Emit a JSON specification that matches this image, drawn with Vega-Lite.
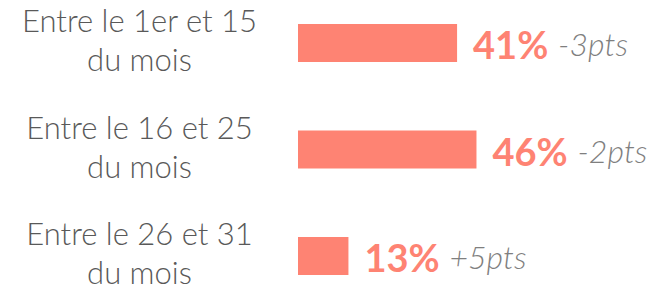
{
  "$schema": "https://vega.github.io/schema/vega-lite/v6.json",
  "width": 358,
  "height": 287,
  "autosize": {"type": "none"},
  "padding": {"left": 298, "top": 0, "right": 0, "bottom": 0},
  "background": "white",
  "config": {"view": {"stroke": null}},
  "data": {
    "values": [
      {"periode": "Entre le 1er et 15|du mois", "part": 41, "pct": "41%", "evol": "-3pts"},
      {"periode": "Entre le 16 et 25|du mois", "part": 46, "pct": "46%", "evol": "-2pts"},
      {"periode": "Entre le 26 et 31|du mois", "part": 13, "pct": "13%", "evol": "+5pts"}
    ]
  },
  "encoding": {
    "y": {
      "field": "periode",
      "type": "nominal",
      "sort": null,
      "scale": {"paddingInner": 0.643, "paddingOuter": 0.169, "align": 0.667},
      "axis": {
        "title": null,
        "domain": false,
        "ticks": false,
        "tickSize": 0,
        "labelPadding": 159,
        "labelAlign": "center",
        "labelBaseline": "middle",
        "labelOffset": -20,
        "labelExpr": "split(datum.label, '|')",
        "labelFont": "Lato",
        "labelFontWeight": 300,
        "labelFontSize": 31,
        "labelLineHeight": 39,
        "labelColor": "#595959",
        "labelLimit": 400
      }
    },
    "x": {
      "field": "part",
      "type": "quantitative",
      "scale": {"domain": [0, 92.27], "nice": false, "zero": true},
      "axis": null
    }
  },
  "layer": [
    {"mark": {"type": "bar", "color": "#FE8373"}},
    {
      "mark": {"type": "text", "align": "left", "baseline": "alphabetic", "dx": 16, "dy": 16, "font": "Lato", "fontSize": 38, "fontWeight": "bold", "color": "#FE8373"},
      "encoding": {"text": {"field": "pct"}}
    },
    {
      "mark": {"type": "text", "align": "left", "baseline": "alphabetic", "dx": 101, "dy": 13, "font": "Lato", "fontSize": 32, "fontStyle": "italic", "fontWeight": 300, "color": "#7F7F7F"},
      "encoding": {"text": {"field": "evol"}}
    }
  ]
}
